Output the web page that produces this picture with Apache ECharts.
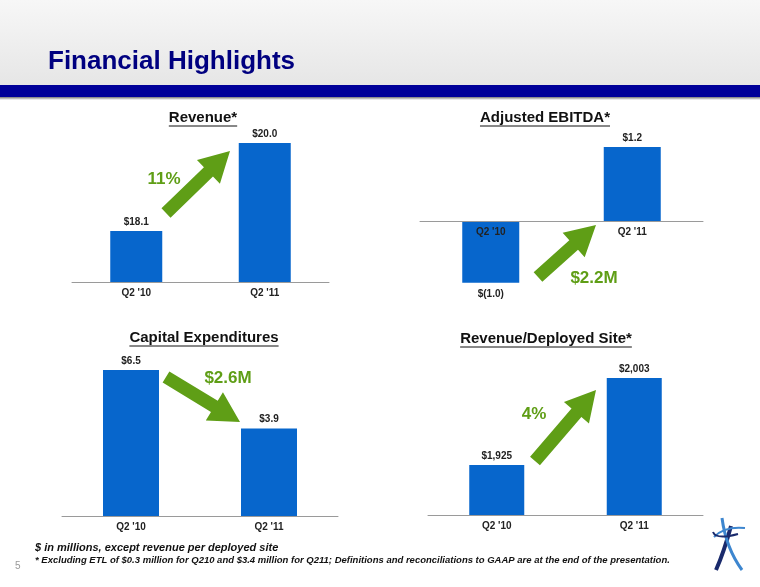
<!DOCTYPE html>
<html>
<head>
<meta charset="utf-8">
<script src="https://cdn.jsdelivr.net/npm/echarts@6/dist/echarts.min.js"></script>
<style>
  html, body { margin: 0; padding: 0; background: #fff; }
  #main { width: 760px; height: 587px; }
</style>
</head>
<body>
<div id="main"></div>
<script>
// data
var categories = ["Q2 '10", "Q2 '11"];
var revenue = [18.1, 20.0];
var ebitda = [-1.0, 1.2];
var capex = [6.5, 3.9];
var revPerSite = [1925, 2003];
var panelTitles = ['Revenue*', 'Adjusted EBITDA*', 'Capital Expenditures', 'Revenue/Deployed Site*'];
var changeLabels = ['11%', '$2.2M', '$2.6M', '4%'];

var FONT = '"Liberation Sans", Arial, sans-serif';
var BLUE = '#0766cc';
var GREEN = '#5f9e16';

var myChart = echarts.init(document.getElementById('main'));

function money1(v) {
  return v < 0 ? '$(' + Math.abs(v).toFixed(1) + ')' : '$' + v.toFixed(1);
}

// arrow polygon from tail to tip
function arrow(x1, y1, x2, y2, sw, hw, hl) {
  var dx = x2 - x1, dy = y2 - y1, len = Math.sqrt(dx * dx + dy * dy);
  var ux = dx / len, uy = dy / len, nx = -uy, ny = ux;
  var bx = x2 - ux * hl, by = y2 - uy * hl;
  return {
    type: 'polygon', z: 10,
    shape: { points: [
      [x1 + nx * sw / 2, y1 + ny * sw / 2],
      [bx + nx * sw / 2, by + ny * sw / 2],
      [bx + nx * hw / 2, by + ny * hw / 2],
      [x2, y2],
      [bx - nx * hw / 2, by - ny * hw / 2],
      [bx - nx * sw / 2, by - ny * sw / 2],
      [x1 - nx * sw / 2, y1 - ny * sw / 2]
    ] },
    style: { fill: GREEN }
  };
}

var measure = document.createElement('canvas').getContext('2d');
function underlinedTitle(text, cx, cy) {
  var font = 'bold 15px ' + FONT;
  measure.font = font;
  var w = measure.measureText(text).width;
  return [
    { type: 'text', z: 10, style: { text: text, x: cx, y: cy, font: font, fill: '#111',
        align: 'center', verticalAlign: 'middle', textAlign: 'center', textVerticalAlign: 'middle' } },
    { type: 'line', z: 10, shape: { x1: cx - w / 2, y1: cy + 8, x2: cx + w / 2, y2: cy + 8 },
      style: { stroke: '#111', lineWidth: 1 } }
  ];
}

function greenText(text, cx, cy) {
  return { type: 'text', z: 10, style: { text: text, x: cx, y: cy, font: 'bold 17px ' + FONT, fill: GREEN,
    align: 'center', verticalAlign: 'middle', textAlign: 'center', textVerticalAlign: 'middle' } };
}

function xAxis(i) {
  return {
    type: 'category', gridIndex: i, data: categories, z: 5,
    axisLine: { onZero: false, lineStyle: { color: '#9a9a9a', width: 1 } },
    axisTick: { length: 5, lineStyle: { color: '#9a9a9a' } },
    axisLabel: { fontFamily: FONT, fontWeight: 'bold', fontSize: 10, color: '#222', margin: 6 }
  };
}

function yAxis(i, min, max) {
  return { type: 'value', gridIndex: i, min: min, max: max, show: false, splitLine: { show: false } };
}

function barSeries(i, data, width, fmt) {
  return {
    type: 'bar', xAxisIndex: i, yAxisIndex: i, barWidth: width,
    data: data.map(function (v) {
      return { value: v, label: { position: v < 0 ? 'bottom' : 'top', distance: v < 0 ? 7 : 4 } };
    }),
    itemStyle: { color: BLUE },
    label: { show: true, fontFamily: FONT, fontWeight: 'bold', fontSize: 10, color: '#222',
      formatter: function (p) { return fmt(p.value); } },
    silent: true, animation: false
  };
}

var ebitdaSeries = barSeries(1, ebitda, 57, money1);
ebitdaSeries.clip = false; // negative bar hangs below the zero-line axis

var graphics = [
  // header
  { type: 'rect', z: -10, shape: { x: 0, y: 0, width: 760, height: 85 },
    style: { fill: new echarts.graphic.LinearGradient(0, 0, 0, 1, [
      { offset: 0, color: '#f7f7f7' }, { offset: 1, color: '#e6e6e6' }]) } },
  { type: 'rect', z: -9, shape: { x: 0, y: 85, width: 760, height: 12 }, style: { fill: '#000099' } },
  { type: 'rect', z: -9, shape: { x: 0, y: 97, width: 760, height: 3 },
    style: { fill: new echarts.graphic.LinearGradient(0, 0, 0, 1, [
      { offset: 0, color: '#777' }, { offset: 1, color: '#fff' }]) } },
  { type: 'text', z: 10, style: { text: 'Financial Highlights', x: 48, y: 62, font: 'bold 26px ' + FONT,
    fill: '#000080', verticalAlign: 'middle', textVerticalAlign: 'middle' } },

  // arrows + change labels
  arrow(166, 213, 230, 151, 13, 33, 30),
  greenText(changeLabels[0], 164, 179),
  arrow(538, 277, 596, 225, 13, 33, 30),
  greenText(changeLabels[1], 594, 278),
  arrow(166, 377, 240, 422, 13, 33, 30),
  greenText(changeLabels[2], 228, 378),
  arrow(535, 461, 596, 390, 13, 33, 30),
  greenText(changeLabels[3], 534, 414),

  // footnotes
  { type: 'text', z: 10, style: { text: '$ in millions, except revenue per deployed site', x: 35, y: 548,
    font: 'italic bold 11px ' + FONT, fill: '#111', verticalAlign: 'middle', textVerticalAlign: 'middle' } },
  { type: 'text', z: 10, style: { text: '* Excluding ETL of $0.3 million for Q210 and $3.4 million for Q211; Definitions and reconciliations to GAAP are at the end of the presentation.',
    x: 35, y: 560, font: 'italic bold 9.5px ' + FONT, fill: '#111', verticalAlign: 'middle', textVerticalAlign: 'middle' } },
  { type: 'text', z: 10, style: { text: '5', x: 15, y: 566, font: '10px ' + FONT, fill: '#999',
    verticalAlign: 'middle', textVerticalAlign: 'middle' } },

  // logo (rough)
  { type: 'bezierCurve', z: 10, shape: { x1: 716, y1: 570, cpx1: 724, cpy1: 552, x2: 731, y2: 526 },
    style: { stroke: '#1a2a6c', lineWidth: 4, fill: null } },
  { type: 'bezierCurve', z: 10, shape: { x1: 722, y1: 518, cpx1: 726, cpy1: 548, x2: 742, y2: 570 },
    style: { stroke: '#3d86cf', lineWidth: 3, fill: null } },
  { type: 'bezierCurve', z: 11, shape: { x1: 714, y1: 537, cpx1: 724, cpy1: 526, x2: 745, y2: 528 },
    style: { stroke: '#3d86cf', lineWidth: 2, fill: null } },
  { type: 'bezierCurve', z: 11, shape: { x1: 713, y1: 532, cpx1: 716, cpy1: 540, x2: 738, y2: 534 },
    style: { stroke: '#1a2a6c', lineWidth: 2, fill: null } }
];

graphics = graphics
  .concat(underlinedTitle(panelTitles[0], 203, 118))
  .concat(underlinedTitle(panelTitles[1], 545, 118))
  .concat(underlinedTitle(panelTitles[2], 204, 338))
  .concat(underlinedTitle(panelTitles[3], 546, 339));

var option = {
  backgroundColor: '#fff',
  animation: false,
  textStyle: { fontFamily: FONT },
  grid: [
    { left: 72, top: 143, width: 257, height: 139 },
    // EBITDA: grid bottom is the zero line
    { left: 420, top: 147, width: 283, height: 74 },
    { left: 62, top: 370, width: 276, height: 146 },
    { left: 428, top: 378, width: 275, height: 137 }
  ],
  xAxis: [xAxis(0), xAxis(1), xAxis(2), xAxis(3)],
  yAxis: [yAxis(0, 17, 20), yAxis(1, 0, 1.2), yAxis(2, 0, 6.5), yAxis(3, 1880, 2003)],
  series: [
    barSeries(0, revenue, 52, money1),
    ebitdaSeries,
    barSeries(2, capex, 56, money1),
    barSeries(3, revPerSite, 55, function (v) { return '$' + v.toLocaleString('en-US'); })
  ],
  graphic: { elements: graphics }
};

myChart.setOption(option);
</script>
</body>
</html>
